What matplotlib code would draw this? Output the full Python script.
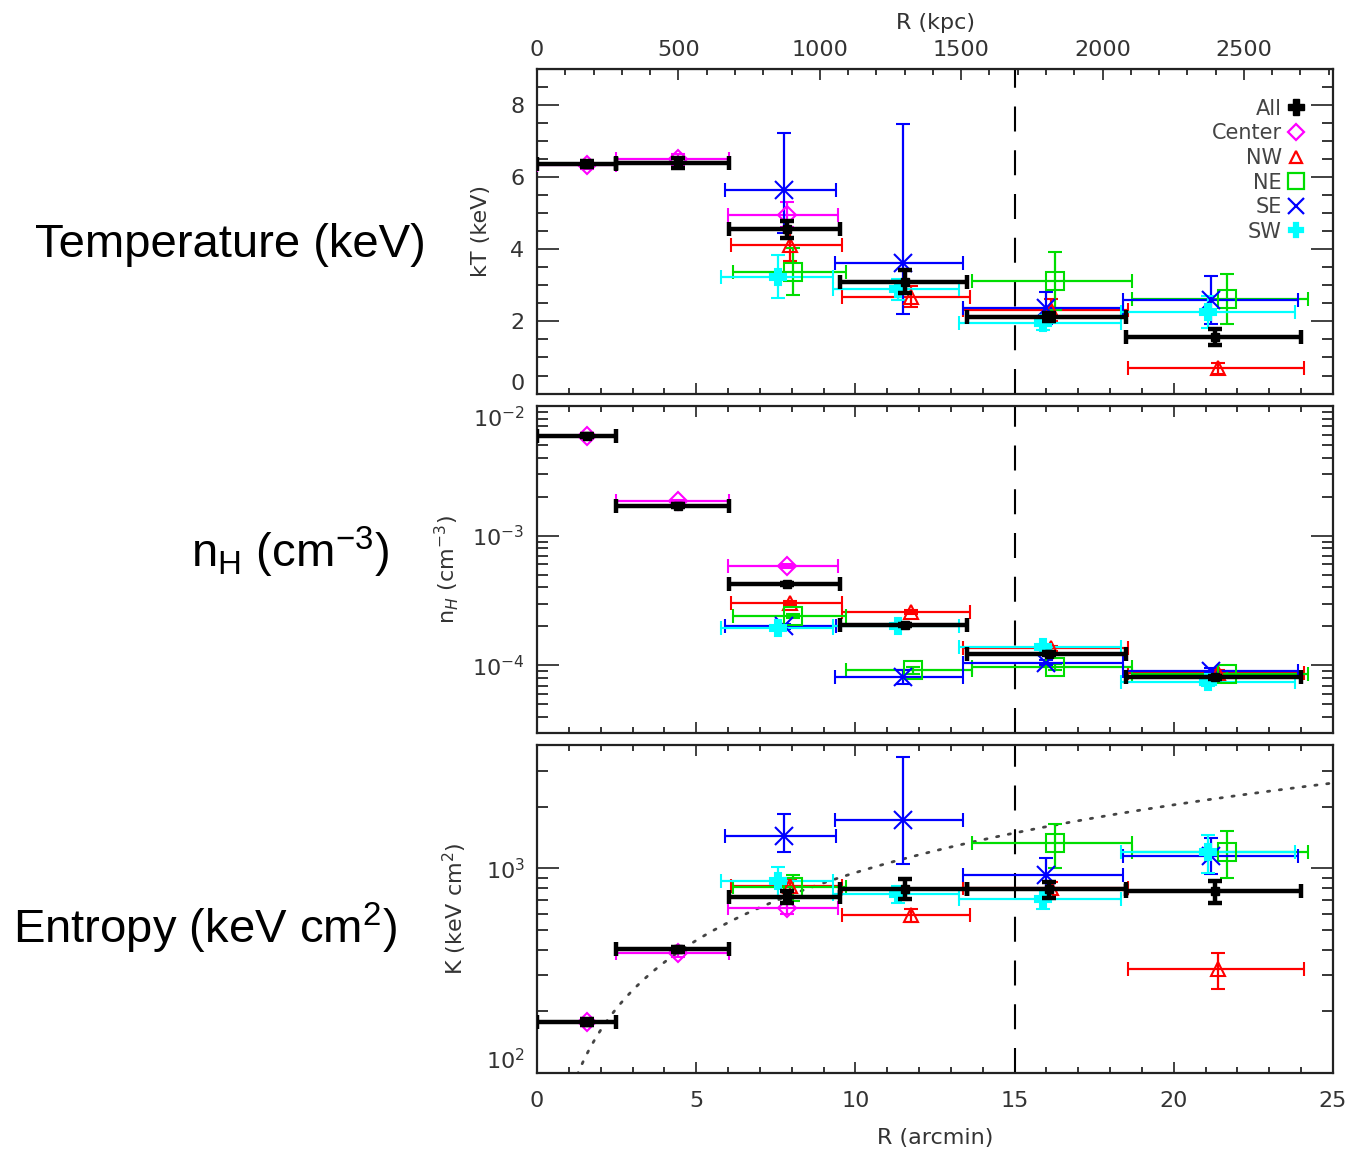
import matplotlib
matplotlib.use("Agg")
import matplotlib.pyplot as plt
import numpy as np
from matplotlib.ticker import MultipleLocator, LogLocator, NullFormatter, FixedLocator

# radial bins (arcmin): centre, inner and outer edge for each sector
r_all = [1.57, 4.43, 7.84, 11.56, 16.08, 21.30]
r_all_lo = [0.0, 2.47, 6.03, 9.52, 13.50, 18.49]
r_all_hi = [2.47, 6.03, 9.52, 13.50, 18.49, 24.00]

r_cen = [1.57, 4.43, 7.84]
r_cen_lo = [0.0, 2.47, 5.99]
r_cen_hi = [2.47, 6.03, 9.46]

r_nw = [7.95, 11.75, 16.15, 21.40]
r_nw_lo = [6.08, 9.59, 13.38, 18.56]
r_nw_hi = [9.59, 13.60, 18.56, 24.10]

r_ne = [8.05, 11.80, 16.27, 21.66]
r_ne_lo = [6.17, 9.70, 13.65, 18.70]
r_ne_hi = [9.70, 13.65, 18.70, 24.20]

r_se = [7.76, 11.50, 15.98, 21.16]
r_se_lo = [5.91, 9.37, 13.39, 18.40]
r_se_hi = [9.40, 13.39, 18.40, 23.90]

r_sw = [7.58, 11.35, 15.88, 21.08]
r_sw_lo = [5.77, 9.29, 13.25, 18.33]
r_sw_hi = [9.29, 13.25, 18.33, 23.80]

# temperature (keV)
kT_all = [6.37, 6.41, 4.56, 3.10, 2.12, 1.58]
kT_all_err = [0.08, 0.14, 0.23, 0.32, 0.12, 0.22]
kT_cen = [6.34, 6.50, 4.96]
kT_cen_err = [0.10, 0.15, 0.35]
kT_nw = [4.12, 2.69, 2.32, 0.70]
kT_nw_err = [0.45, 0.30, 0.30, 0.15]
kT_ne = [3.38, np.nan, 3.13, 2.62]
kT_ne_err = [0.65, np.nan, 0.80, 0.70]
kT_se = [5.65, 3.63, 2.37, 2.60]
kT_se_err_lo = [1.20, 1.42, 0.45, 0.66]
kT_se_err_hi = [1.58, 3.85, 0.45, 0.66]
kT_sw = [3.24, 2.89, 1.95, 2.27]
kT_sw_err = [0.60, 0.30, 0.20, 0.45]

# hydrogen density (cm^-3)
nH_all = [5.9e-3, 1.70e-3, 4.25e-4, 2.06e-4, 1.23e-4, 8.1e-5]
nH_all_err = [1.5e-4, 4e-5, 8e-6, 4e-6, 3e-6, 2e-6]
nH_cen = [5.9e-3, 1.84e-3, 5.87e-4]
nH_cen_err = [1e-4, 4e-5, 2e-5]
nH_nw = [3.03e-4, 2.58e-4, 1.36e-4, 8.8e-5]
nH_nw_err = [1.2e-5, 1e-5, 6e-6, 4e-6]
nH_ne = [2.40e-4, 9.2e-5, 9.8e-5, 8.6e-5]
nH_ne_err = [1e-5, 6e-6, 5e-6, 4e-6]
nH_se = [2.0e-4, 8.2e-5, 1.05e-4, 9.1e-5]
nH_se_err = [8e-6, 1e-5, 5e-6, 4e-6]
nH_sw = [1.94e-4, 2.03e-4, 1.39e-4, 7.4e-5]
nH_sw_err = [8e-6, 8e-6, 6e-6, 4e-6]

# entropy (keV cm^2)
K_all = [177, 402, 723, 794, 788, 771]
K_all_err = [6, 12, 50, 90, 70, 95]
K_cen = [177, 384, 640]
K_cen_err = [8, 15, 40]
K_nw = [815, 590, 800, 321]
K_nw_err = [60, 45, 60, 65]
K_ne = [809, np.nan, 1322, 1205]
K_ne_err = [120, np.nan, 320, 310]
K_se = [1442, 1718, 922, 1152]
K_se_err_lo = [246, 668, 200, 210]
K_se_err_hi = [406, 1766, 200, 260]
K_sw = [865, 745, 710, 1196]
K_sw_err = [150, 70, 80, 250]

# baseline entropy profile K = K0 (r / r0)^slope
base_K0 = 385.0
base_r0 = 4.39
base_slope = 1.1

kpc_per_arcmin = 112.6
kpc_ticks = [0, 500, 1000, 1500, 2000, 2500]
r_vir = 15.0

sectors = [
    ("Center", "#ff00ff", "D", 9, "none"),
    ("NW", "#ff0000", "^", 10, "none"),
    ("NE", "#00dd00", "s", 13, "none"),
    ("SE", "#0000ff", "x", 13, "#0000ff"),
    ("SW", "#00ffff", "P", 11, "#00ffff"),
]
radii = {
    "Center": (r_cen, r_cen_lo, r_cen_hi),
    "NW": (r_nw, r_nw_lo, r_nw_hi),
    "NE": (r_ne, r_ne_lo, r_ne_hi),
    "SE": (r_se, r_se_lo, r_se_hi),
    "SW": (r_sw, r_sw_lo, r_sw_hi),
}
kT_vals = {
    "Center": (kT_cen, kT_cen_err),
    "NW": (kT_nw, kT_nw_err),
    "NE": (kT_ne, kT_ne_err),
    "SE": (kT_se, [kT_se_err_lo, kT_se_err_hi]),
    "SW": (kT_sw, kT_sw_err),
}
nH_vals = {
    "Center": (nH_cen, nH_cen_err),
    "NW": (nH_nw, nH_nw_err),
    "NE": (nH_ne, nH_ne_err),
    "SE": (nH_se, nH_se_err),
    "SW": (nH_sw, nH_sw_err),
}
K_vals = {
    "Center": (K_cen, K_cen_err),
    "NW": (K_nw, K_nw_err),
    "NE": (K_ne, K_ne_err),
    "SE": (K_se, [K_se_err_lo, K_se_err_hi]),
    "SW": (K_sw, K_sw_err),
}

fig = plt.figure(figsize=(13.5, 11.54), dpi=100)
ax1 = fig.add_axes([0.3978, 0.659, 0.5896, 0.2809])
ax2 = fig.add_axes([0.3978, 0.3646, 0.5896, 0.2836])
ax3 = fig.add_axes([0.3978, 0.0702, 0.5896, 0.2842])

tick_col = "#333333"


def draw_panel(ax, vals, y_all, y_all_err):
    for name, col, mk, ms, fc in sectors:
        r, lo, hi = radii[name]
        r = np.array(r, float)
        xerr = [r - np.array(lo), np.array(hi) - r]
        y, yerr = vals[name]
        ax.errorbar(r, np.array(y, float), yerr=np.array(yerr, float), xerr=xerr,
                    fmt=mk, color=col, ms=ms, mfc=fc, mec=col, mew=1.5,
                    elinewidth=1.6, capsize=5, capthick=1.6, label=name, zorder=3)
    r = np.array(r_all)
    xerr = [r - np.array(r_all_lo), np.array(r_all_hi) - r]
    ax.errorbar(r, y_all, yerr=y_all_err, xerr=xerr, fmt="s", color="black",
                ms=6, elinewidth=3.2, capsize=5, capthick=3.2, zorder=4)
    ax.axvline(r_vir, color="black", lw=1.5, dashes=(12, 9), zorder=2)
    ax.set_xlim(0, 25)
    ax.xaxis.set_major_locator(MultipleLocator(5))
    ax.xaxis.set_minor_locator(MultipleLocator(1))
    ax.tick_params(axis="x", which="major", direction="in", length=8, width=1.3,
                   top=True, bottom=True, labelbottom=False, colors=tick_col)
    ax.tick_params(axis="x", which="minor", direction="in", length=4, width=1.1,
                   top=True, bottom=True)
    ax.tick_params(axis="y", which="major", direction="in", length=16, width=1.3,
                   left=True, right=True, labelsize=16, pad=9, colors=tick_col)
    ax.tick_params(axis="y", which="minor", direction="in", length=8, width=1.1,
                   left=True, right=True)
    for s in ax.spines.values():
        s.set_linewidth(1.6)
        s.set_color("#222222")


# temperature
draw_panel(ax1, kT_vals, kT_all, kT_all_err)
ax1.set_ylim(0, 9)
ax1.yaxis.set_major_locator(MultipleLocator(2))
ax1.yaxis.set_minor_locator(MultipleLocator(0.5))
ax1.set_ylabel("kT (keV)", fontsize=16, color=tick_col, labelpad=14)
ax1.tick_params(axis="x", which="both", top=False)

sec = ax1.secondary_xaxis("top", functions=(lambda a: a * kpc_per_arcmin,
                                            lambda k: k / kpc_per_arcmin))
sec.xaxis.set_major_locator(FixedLocator(kpc_ticks))
sec.xaxis.set_minor_locator(MultipleLocator(100))
sec.tick_params(which="major", direction="in", length=8, width=1.3, labelsize=16,
                pad=7, colors=tick_col)
sec.tick_params(which="minor", direction="in", length=4, width=1.1)
sec.set_xlabel("R (kpc)", fontsize=16, color=tick_col, labelpad=8)

# legend: label on the left, symbol on the right
h_all = plt.Line2D([], [], ls="none", marker="P", color="black", ms=11)
handles = [h_all]
labels = ["All"]
for name, col, mk, ms, fc in sectors:
    handles.append(plt.Line2D([], [], ls="none", marker=mk, color=col, mfc=fc,
                              mec=col, mew=1.6, ms=ms * 0.9))
    labels.append(name)
leg = ax1.legend(handles, labels, loc="upper right", bbox_to_anchor=(0.975, 0.935),
                 markerfirst=False, frameon=False, fontsize=15, handlelength=0.8,
                 handletextpad=0.3, labelspacing=0.22, borderaxespad=0)
for t in leg.get_texts():
    t.set_color("#444444")

# density
draw_panel(ax2, nH_vals, nH_all, nH_all_err)
ax2.set_yscale("log")
ax2.set_ylim(3e-5, 1e-2)
ax2.yaxis.set_major_locator(LogLocator(base=10))
ax2.yaxis.set_minor_locator(LogLocator(base=10, subs=np.arange(2, 10)))
ax2.yaxis.set_minor_formatter(NullFormatter())
ax2.set_ylabel(r"n$_H$ (cm$^{-3}$)", fontsize=16, color=tick_col, labelpad=8)

# entropy
draw_panel(ax3, K_vals, K_all, K_all_err)
r_line = np.linspace(0.05, 25, 300)
ax3.plot(r_line, base_K0 * (r_line / base_r0) ** base_slope, color="#444444",
         lw=2, ls=(0, (0.8, 3.5)), dash_capstyle="round", zorder=1)
ax3.set_yscale("log")
ax3.set_ylim(100, 4000)
ax3.yaxis.set_major_locator(LogLocator(base=10))
ax3.yaxis.set_minor_locator(LogLocator(base=10, subs=np.arange(2, 10)))
ax3.yaxis.set_minor_formatter(NullFormatter())
ax3.set_ylabel(r"K (keV cm$^2$)", fontsize=16, color=tick_col, labelpad=12)
ax3.tick_params(axis="x", which="major", labelbottom=True, labelsize=16, pad=13)
ax3.set_xlabel("R (arcmin)", fontsize=16, color=tick_col, labelpad=12)

# keep the y labels at the panel edges inside their own panel
fig.canvas.draw()
for ax, edge, va in [(ax1, 0, "bottom"), (ax2, 1e-2, "top"), (ax3, 100, "bottom")]:
    for tk in ax.yaxis.get_major_ticks():
        if np.isclose(tk.get_loc(), edge):
            tk.label1.set_va(va)

# quantity names beside each panel
side_font = "Liberation Sans"
fig.text(230 / 1350, 1 - 245 / 1154, "Temperature (keV)", fontsize=34,
         family=side_font, ha="center", va="center")
fig.text(290 / 1350, 1 - 552 / 1154, r"n$_\mathregular{H}$ (cm$^\mathregular{-3}$)",
         fontsize=34, family=side_font, ha="center", va="center")
fig.text(205 / 1350, 1 - 928 / 1154, r"Entropy (keV cm$^\mathregular{2}$)", fontsize=34,
         family=side_font, ha="center", va="center")

fig.savefig("out.png", dpi=100)
